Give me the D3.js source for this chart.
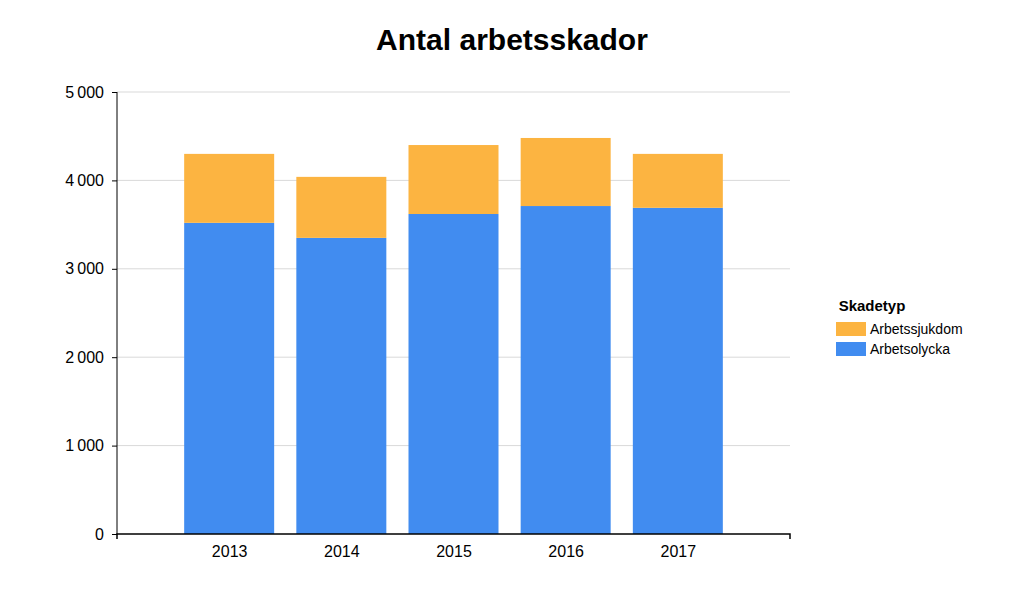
<!DOCTYPE html>
<html><head><meta charset="utf-8">
<script src="https://cdn.jsdelivr.net/npm/d3@7"></script>
<style>body{margin:0;background:#fff;font-family:Arial,"Liberation Sans",sans-serif}</style>
</head><body>
<svg id="c" width="1023" height="592"></svg>
<script>
const years = ['2013', '2014', '2015', '2016', '2017'];
const olycka = [3520, 3350, 3620, 3710, 3690];
const sjukdom = [780, 690, 780, 770, 610];
const yTicks = [0, 1000, 2000, 3000, 4000, 5000];
const series = [
    { name: 'Arbetssjukdom', color: '#FCB441' },
    { name: 'Arbetsolycka', color: '#418CF0' }
];

const svg = d3.select('#c');
const x = d3.scalePoint().domain(years).range([117, 790]).padding(1);
const y = d3.scaleLinear().domain([0, 5000]).range([534, 92]);
const fmt = v => d3.format(',')(v).replace(/,/g, '\u2009');
const barW = 90;

svg.append('text').attr('x', 512).attr('y', 50).attr('text-anchor', 'middle')
    .style('font-size', '30px').style('font-weight', 'bold').text('Antal arbetsskador');

// grid
svg.selectAll('line.grid').data(yTicks.slice(1)).enter().append('line')
    .attr('x1', 117).attr('x2', 790).attr('y1', d => y(d)).attr('y2', d => y(d))
    .style('stroke', '#d9d9d9');

// bars
const rows = years.map((yr, i) => ({ yr, a: olycka[i], b: sjukdom[i] }));
svg.selectAll('rect.a').data(rows).enter().append('rect')
    .attr('x', d => x(d.yr) - barW / 2).attr('width', barW)
    .attr('y', d => y(d.a)).attr('height', d => y(0) - y(d.a))
    .style('fill', series[1].color);
svg.selectAll('rect.b').data(rows).enter().append('rect')
    .attr('x', d => x(d.yr) - barW / 2).attr('width', barW)
    .attr('y', d => y(d.a + d.b)).attr('height', d => y(d.a) - y(d.a + d.b))
    .style('fill', series[0].color);

// y axis
const ya = svg.append('g').attr('transform', 'translate(117,0)')
    .call(d3.axisLeft(y).tickValues(yTicks).tickFormat(fmt).tickSize(5).tickPadding(8));
ya.selectAll('text').style('font-size', '16px').style('fill', '#000').style('font-family', 'Arial, Liberation Sans');
ya.selectAll('line,path').style('stroke', '#000');
ya.select('path').attr('d', 'M0,534V92');

// x axis
const xa = svg.append('g').attr('transform', 'translate(0,534)')
    .call(d3.axisBottom(x).tickSize(0).tickPadding(12));
xa.selectAll('text').style('font-size', '16px').style('fill', '#000').style('font-family', 'Arial, Liberation Sans');
xa.select('path').attr('d', 'M117,5V0H790V5').style('stroke', '#000').style('stroke-width', 1.5);

// legend
const lg = svg.append('g').attr('transform', 'translate(836,0)');
lg.append('text').attr('x', 36).attr('y', 311).attr('text-anchor', 'middle')
    .style('font-size', '15px').style('font-weight', 'bold').text('Skadetyp');
const items = lg.selectAll('g.it').data(series).enter().append('g')
    .attr('transform', (d, i) => `translate(0,${322 + i * 20})`);
items.append('rect').attr('width', 30).attr('height', 14).style('fill', d => d.color);
items.append('text').attr('x', 34).attr('y', 12).style('font-size', '14px').text(d => d.name);
</script>
</body></html>
